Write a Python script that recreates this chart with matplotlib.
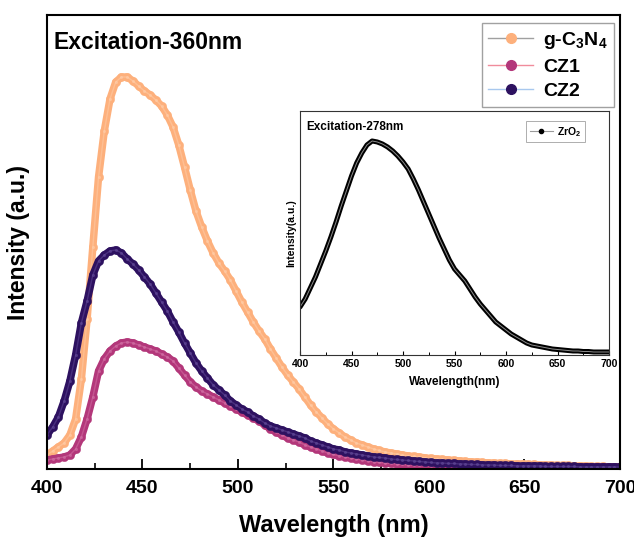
import numpy as np
import matplotlib
matplotlib.use("Agg")
import matplotlib.pyplot as plt
from matplotlib.lines import Line2D

plt.rcParams['font.family'] = ['Liberation Sans', 'DejaVu Sans']
plt.rcParams['font.weight'] = 'bold'
plt.rcParams['mathtext.fontset'] = 'custom'
plt.rcParams['mathtext.rm'] = 'Liberation Sans:bold'
plt.rcParams['mathtext.bf'] = 'Liberation Sans:bold'
plt.rcParams['mathtext.it'] = 'Liberation Sans:bold'

# --- main panel data (excitation 360 nm), 3 nm steps ---
wavelength = np.arange(400, 701, 3)

g_c3n4 = [14, 18, 22, 26, 34, 50, 90, 150, 222, 292,
          338, 370, 387, 392, 392, 388, 383, 378, 374, 369,
          363, 354, 342, 324, 302, 279, 258, 242, 228, 216,
          206, 198, 189, 178, 167, 157, 147, 138, 130, 120,
          111, 102, 94, 87, 80, 72, 64, 57, 51, 45,
          40, 36, 32, 29, 26, 24, 22, 20, 18.5, 17,
          16, 15, 14, 13, 12.5, 12, 11, 10.5, 10, 9.5,
          9, 8.5, 8, 7.5, 7, 7, 6.5, 6, 6, 5.5,
          5.5, 5, 5, 5, 4.5, 4.5, 4, 4, 4, 3.5,
          3.5, 3.5, 3, 3, 3, 2.5, 2.5, 2.5, 2, 2,
          2]

cz1 = [9, 10, 11, 12, 14, 20, 32, 50, 72, 98,
       110, 118, 123, 126, 127, 126, 124, 122, 120, 118,
       115, 112, 108, 101, 94, 87, 82, 78, 75, 72,
       69, 66, 63, 60, 57, 54, 51, 48, 44, 40,
       37, 34, 31, 29, 27, 24, 22, 20, 18, 16,
       14.5, 13, 12, 11, 10, 9, 8, 7, 6.5, 6,
       5.5, 5, 4.5, 4, 4, 3.5, 3.5, 3, 3, 3,
       3, 2.5, 2.5, 2.5, 2.5, 2.5, 2, 2, 2, 2,
       2, 2, 2, 2, 2, 2, 2, 2, 2, 2,
       2, 2, 2, 2, 2, 2, 2, 2, 2, 2,
       2]

cz2 = [34, 42, 52, 68, 88, 114, 146, 168, 194, 208,
       214, 218, 219, 216, 210, 205, 199, 192, 185, 176,
       167, 158, 147, 137, 126, 116, 106, 98, 91, 84,
       79, 74, 68, 64, 60, 57, 53, 50, 46, 43,
       41, 39, 37, 35, 33, 31, 28, 26, 24, 22,
       20, 19, 17, 16, 15, 14, 13, 12, 11.5, 11,
       10, 9.5, 9, 8.5, 8, 7.5, 7, 6.5, 6, 6,
       5.5, 5.5, 5, 5, 4.5, 4.5, 4, 4, 4, 3.5,
       3.5, 3.5, 3, 3, 3, 3, 3, 2.5, 2.5, 2.5,
       2.5, 2.5, 2.5, 2, 2, 2, 2, 2, 2, 2,
       2]

# --- inset data (ZrO2, excitation 278 nm), 5 nm steps ---
wl_zro2 = np.arange(400, 701, 5)
zro2 = [48, 56, 67, 78, 91, 104, 118, 133, 149, 164,
        179, 192, 202, 210, 214, 213, 211, 208, 204, 199,
        193, 186, 176, 165, 153, 141, 129, 117, 106, 95,
        86, 80, 74, 66, 58, 51, 45, 39, 33, 29,
        25, 21, 18, 15, 12, 10, 9, 8, 7, 6,
        5.5, 5, 4.5, 4, 4, 3.5, 3.5, 3, 3, 3,
        3]

labels = ['g-C$_3$N$_4$', 'CZ1', 'CZ2']
marker_colors = ['#FDB07C', '#B3377A', '#2D1160']
highlight_colors = ['#FFD2B0', '#D77AAC', '#6A52A0']
line_colors = ['#A0A0A0', '#F08C9C', '#A8C8EE']
series = [g_c3n4, cz1, cz2]

fig = plt.figure(figsize=(6.34, 5.4), dpi=100)
ax = fig.add_axes([0.0741, 0.1315, 0.9038, 0.8407])

# dense sphere-like markers: thick band + markers + light centre
for ys, mc, hc in zip(series, marker_colors, highlight_colors):
    ax.plot(wavelength, ys, color=mc, lw=5.4, solid_capstyle='round', zorder=2)
    ax.plot(wavelength, ys, linestyle='none', marker='o', ms=6,
            mfc=mc, mec=mc, mew=0.3, zorder=2)
    ax.plot(wavelength, ys, color=hc, lw=1.0, alpha=0.45, zorder=2)
    ax.plot(wavelength, ys, linestyle='none', marker='o', ms=2.2,
            mfc=hc, mec='none', zorder=2, alpha=0.55)

ax.set_xlim(400, 700)
ax.set_ylim(0, 454)
ax.set_xticks(np.arange(400, 701, 50))
ax.set_xticks(np.arange(425, 700, 50), minor=True)
ax.set_yticks([])
ax.tick_params(axis='x', which='major', direction='in', length=7, width=1.3,
               labelsize=14, pad=8)
ax.tick_params(axis='x', which='minor', direction='in', length=4, width=1.2)
for lab in ax.get_xticklabels():
    lab.set_fontweight('bold')
for sp in ax.spines.values():
    sp.set_linewidth(1.5)
ax.set_xlabel('Wavelength (nm)', fontsize=17, fontweight='bold', labelpad=12)
ax.set_ylabel('Intensity (a.u.)', fontsize=16.5, fontweight='bold', labelpad=12)
ax.text(0.012, 0.965, 'Excitation-360nm', transform=ax.transAxes,
        fontsize=16.5, fontweight='bold', va='top', ha='left')

handles = [Line2D([0], [0], color=lc, lw=1, marker='o', ms=7, mfc=mc, mec=mc)
           for lc, mc in zip(line_colors, marker_colors)]
leg = ax.legend(handles, labels, loc='upper right', bbox_to_anchor=(0.9965, 0.99),
                frameon=True, fancybox=False, edgecolor='#8A8A8A',
                handlelength=2.3, handletextpad=0.5, labelspacing=0.35,
                borderpad=0.35, borderaxespad=0.2, prop={'weight': 'bold', 'size': 14})
leg.get_frame().set_linewidth(1.0)

# --- inset ---
axi = fig.add_axes([0.4732, 0.3426, 0.4874, 0.4519])
axi.plot(wl_zro2, zro2, color='black', lw=3.6, solid_capstyle='round')
axi.plot(wl_zro2, zro2, color='#8C8C8C', lw=0.7)
axi.set_xlim(400, 700)
axi.set_ylim(0, 244)
axi.set_xticks(np.arange(400, 701, 50))
axi.set_xticks(np.arange(425, 700, 50), minor=True)
axi.set_yticks([])
axi.tick_params(axis='x', which='major', direction='in', length=3, width=0.8,
                labelsize=7.5, pad=3)
axi.tick_params(axis='x', which='minor', direction='in', length=2, width=0.7)
for lab in axi.get_xticklabels():
    lab.set_fontweight('bold')
for sp in axi.spines.values():
    sp.set_linewidth(0.8)
    sp.set_color('#333333')
axi.set_xlabel('Wavelength(nm)', fontsize=8.5, fontweight='bold', labelpad=5)
axi.set_ylabel('Intensity(a.u.)', fontsize=7.5, fontweight='bold', labelpad=3)
axi.text(0.02, 0.96, 'Excitation-278nm', transform=axi.transAxes,
         fontsize=8.5, fontweight='bold', va='top', ha='left')
h_zro2 = Line2D([0], [0], color='#9A9A9A', lw=0.8, marker='o', ms=3,
                mfc='black', mec='black')
leg2 = axi.legend([h_zro2], ['ZrO$_2$'], loc='upper right',
                  bbox_to_anchor=(0.922, 0.958), frameon=True, fancybox=False,
                  edgecolor='#9A9A9A', handlelength=2.2, handletextpad=0.4,
                  borderpad=0.35, borderaxespad=0.0, prop={'weight': 'bold', 'size': 7.5})
leg2.get_frame().set_linewidth(0.7)

fig.savefig('out.png', dpi=100)
